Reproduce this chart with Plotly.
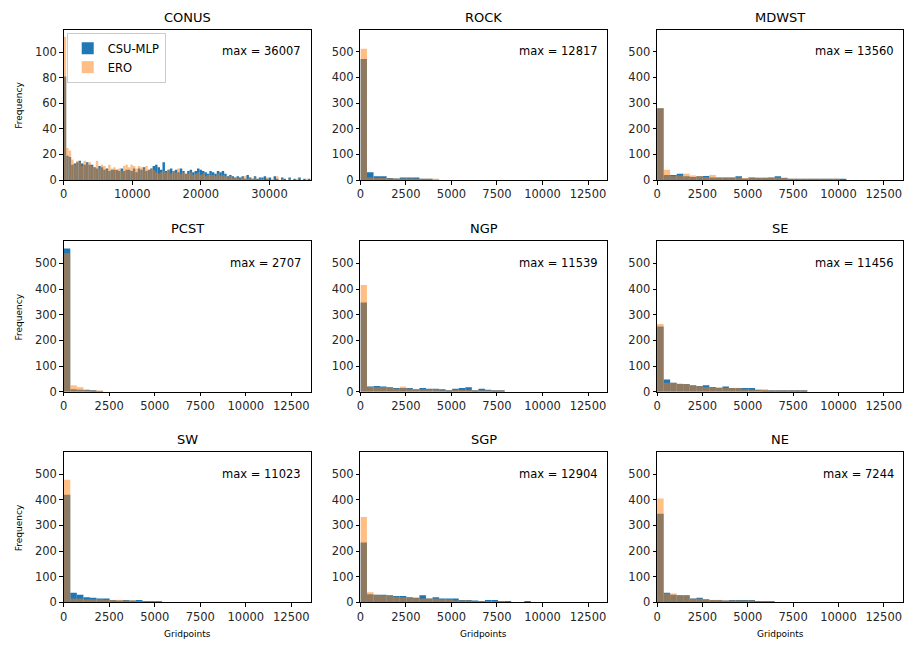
import numpy as np
import plotly.graph_objects as go
from plotly.subplots import make_subplots

# ---------------- data ----------------
REGIONS = ["CONUS", "ROCK", "MDWST", "PCST", "NGP", "SE", "SW", "SGP", "NE"]
MAX_LABELS = [36007, 12817, 13560, 2707, 11539, 11456, 11023, 12904, 7244]
BIN_WIDTH = 360  # gridpoints per histogram bin

conus_csu = [81, 19, 18, 12, 13, 14, 15, 13, 12, 14,
             12, 12, 10, 9, 11, 10, 8, 9, 7, 8,
             8, 8, 7, 9, 7, 8, 8, 7, 9, 6,
             9, 8, 10, 7, 8, 9, 11, 12, 10, 8,
             14, 7, 8, 9, 7, 8, 6, 9, 7, 5,
             7, 8, 6, 7, 9, 8, 7, 6, 5, 7,
             6, 5, 7, 6, 7, 5, 3, 4, 3, 2,
             3, 2, 3, 1, 4, 2, 1, 3, 1, 2,
             2, 3, 1, 2, 0, 3, 1, 0, 2, 1,
             0, 2, 0, 1, 0, 2, 0, 1, 0, 1]
conus_ero = [112, 25, 23, 16, 12, 15, 14, 11, 15, 13,
             14, 11, 10, 15, 9, 12, 11, 8, 12, 9,
             10, 8, 9, 7, 11, 12, 10, 12, 11, 9,
             11, 10, 9, 11, 8, 9, 8, 6, 5, 6,
             7, 6, 8, 5, 7, 6, 9, 5, 6, 5,
             5, 6, 4, 5, 6, 4, 5, 3, 4, 4,
             4, 3, 5, 3, 4, 3, 2, 3, 2, 2,
             2, 1, 2, 3, 1, 2, 1, 2, 0, 1,
             1, 0, 2, 0, 1, 0, 3, 0, 1, 0,
             0, 1, 0, 0, 1, 0, 0, 0, 1, 0]

rock_csu = [472, 30, 15, 15, 8, 6, 10, 10, 10, 3, 2, 1]
rock_ero = [512, 10, 8, 8, 7, 6, 6, 6, 5, 5, 5, 4]

mdwst_csu = [280, 20, 20, 25, 15, 12, 15, 16, 10, 10, 10, 10, 15, 6, 10, 9, 9, 10, 15, 8,
             5, 5, 5, 5, 2, 2, 5, 5, 4]
mdwst_ero = [280, 40, 15, 18, 25, 18, 15, 12, 20, 10, 10, 10, 10, 8, 10, 9, 9, 10, 10, 10,
             5, 5, 5, 3, 2, 2, 5, 4]

pcst_csu = [558, 10, 8, 8, 3, 1]
pcst_ero = [540, 25, 18, 6, 5, 3]

ngp_csu = [348, 20, 22, 20, 17, 15, 15, 15, 10, 15, 12, 12, 10, 5, 12, 15, 17, 5, 12, 8, 6, 5]
ngp_ero = [416, 20, 18, 18, 15, 12, 20, 12, 10, 10, 10, 10, 5, 5, 8, 8, 8, 5, 5, 5, 4, 3]

se_csu = [254, 48, 35, 30, 30, 25, 22, 25, 18, 15, 20, 15, 15, 15, 15, 8, 5, 5, 5, 4, 5, 3, 2]
se_ero = [264, 35, 35, 32, 30, 25, 22, 18, 18, 18, 15, 15, 15, 10, 8, 8, 10, 5, 5, 5, 5, 4, 3]

sw_csu = [420, 38, 30, 20, 18, 15, 15, 10, 8, 10, 8, 10, 5, 5, 5]
sw_ero = [478, 15, 15, 12, 12, 12, 10, 10, 10, 8, 8, 5, 5, 5, 2]

sgp_csu = [234, 32, 30, 30, 28, 25, 25, 20, 18, 28, 15, 20, 15, 15, 15, 10, 10, 8, 5, 10, 10,
           3, 5, 0, 0, 5]
sgp_ero = [333, 40, 30, 28, 25, 22, 20, 18, 18, 15, 15, 15, 12, 12, 8, 8, 8, 5, 5, 5, 5, 5]

ne_csu = [346, 38, 30, 28, 28, 15, 18, 12, 10, 10, 8, 10, 10, 10, 10, 5, 5, 3]
ne_ero = [405, 35, 35, 25, 25, 15, 15, 12, 10, 10, 8, 8, 8, 8, 8, 5, 4, 5]

CSU = [conus_csu, rock_csu, mdwst_csu, pcst_csu, ngp_csu, se_csu, sw_csu, sgp_csu, ne_csu]
ERO = [conus_ero, rock_ero, mdwst_ero, pcst_ero, ngp_ero, se_ero, sw_ero, sgp_ero, ne_ero]

CONUS_XTICKS = [0, 10000, 20000, 30000]
CONUS_YTICKS = [0, 20, 40, 60, 80, 100]
REG_XTICKS = [0, 2500, 5000, 7500, 10000, 12500]
REG_YTICKS = [0, 100, 200, 300, 400, 500]

# ---------------- figure ----------------
W, H = 904, 650
FONT = "DejaVu Sans"
TXT = "#262626"
BLUE = "#1f77b4"
ORANGE = "#ff7f0e"

col_px = [(60, 308), (358, 606), (656, 903)]
row_px = [(30, 182), (244, 396), (457, 609)]

fig = make_subplots(rows=3, cols=3)

reg_xmax = max(MAX_LABELS[1:])
conus_ymax = max(max(conus_csu), max(conus_ero)) * 1.05
reg_ymax = max(max(max(c), max(e)) for c, e in zip(CSU[1:], ERO[1:])) * 1.05

annotations = []
for i, name in enumerate(REGIONS):
    r, c = divmod(i, 3)
    csu = np.array(CSU[i], dtype=float)
    ero = np.array(ERO[i], dtype=float)
    xc = (np.arange(len(csu)) + 0.5) * BIN_WIDTH
    xe = (np.arange(len(ero)) + 0.5) * BIN_WIDTH
    fig.add_trace(go.Bar(x=xc, y=csu, width=BIN_WIDTH, marker=dict(color=BLUE, line=dict(width=0)),
                         name="CSU-MLP", showlegend=(i == 0), legendgroup="csu"),
                  row=r + 1, col=c + 1)
    fig.add_trace(go.Bar(x=xe, y=ero, width=BIN_WIDTH, marker=dict(color=ORANGE, line=dict(width=0)),
                         opacity=0.5, name="ERO", showlegend=(i == 0), legendgroup="ero"),
                  row=r + 1, col=c + 1)

    ax = "" if i == 0 else str(i + 1)
    x0, x1 = col_px[c]
    y0, y1 = row_px[r]
    xdom = [x0 / W, x1 / W]
    ydom = [1 - y1 / H, 1 - y0 / H]
    if i == 0:
        xr, yr, xt, yt = [0, MAX_LABELS[0]], [0, conus_ymax], CONUS_XTICKS, CONUS_YTICKS
    else:
        xr, yr, xt, yt = [0, reg_xmax], [0, reg_ymax], REG_XTICKS, REG_YTICKS
    common = dict(showline=True, linecolor="black", linewidth=1, mirror=True, ticks="outside",
                  ticklen=3.5, tickwidth=1, tickcolor="black", showgrid=False, zeroline=False,
                  tickfont=dict(family=FONT, size=11.5, color=TXT))
    fig.layout["xaxis" + ax].update(domain=xdom, range=xr, tickvals=xt,
                                    ticktext=[str(v) for v in xt], **common)
    fig.layout["yaxis" + ax].update(domain=ydom, range=yr, tickvals=yt,
                                    ticktext=[str(v) for v in yt], **common)

    xref_d = "x" + ax + " domain"
    yref_d = "y" + ax + " domain"
    annotations.append(dict(text=name, xref=xref_d, yref=yref_d, x=0.5, y=1, yanchor="bottom",
                            yshift=3, showarrow=False, font=dict(family=FONT, size=13, color="black")))
    annotations.append(dict(text=f"max = {MAX_LABELS[i]}", xref=xref_d, yref=yref_d, x=0.97,
                            y=0.855, xanchor="right", yanchor="middle", showarrow=False,
                            font=dict(family=FONT, size=11.5, color="black")))
    if c == 0:
        annotations.append(dict(text="Frequency", xref="paper", yref=yref_d, x=15 / W, y=0.5,
                                xanchor="center", yanchor="middle", textangle=-90, showarrow=False,
                                font=dict(family=FONT, size=9, color="black")))
    if r == 2:
        annotations.append(dict(text="Gridpoints", xref=xref_d, yref="paper", x=0.5, y=1 - 641 / H,
                                xanchor="center", yanchor="middle", showarrow=False,
                                font=dict(family=FONT, size=9, color="black")))

fig.update_layout(
    width=W, height=H, margin=dict(l=0, r=0, t=0, b=0),
    paper_bgcolor="white", plot_bgcolor="white",
    barmode="overlay",
    font=dict(family=FONT, size=11, color=TXT),
    legend=dict(x=63 / W, y=1 - 33 / H, xanchor="left", yanchor="top",
                bgcolor="rgba(255,255,255,0.8)", bordercolor="#cccccc", borderwidth=1,
                font=dict(family=FONT, size=11.5, color="black"), tracegroupgap=0,
                itemwidth=30),
    annotations=annotations,
)

fig.write_html("out.html")
